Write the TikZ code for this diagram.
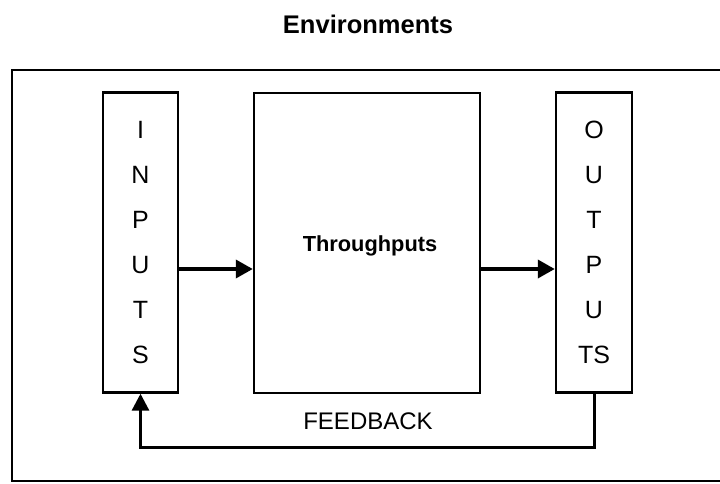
\documentclass[tikz,border=0pt]{standalone}
\usepackage{fontspec}
\setmainfont{Liberation Sans}
\usetikzlibrary{arrows.meta}
\begin{document}
\begin{tikzpicture}[x=1pt,y=-1pt,
  box/.style={draw=black,line width=2.4pt,minimum width=#1,inner sep=0pt,minimum height=300pt},
  letters/.style={align=center,font=\fontsize{25}{45}\selectfont},
  arr/.style={line width=3.6pt,-{Triangle[length=17pt,width=18pt]}},
  fb/.style={line width=3pt,-{Triangle[length=17pt,width=17pt]}}]
\useasboundingbox (0,0) rectangle (720,483);
\fill[white] (0,0) rectangle (720,483);
\node[draw=black,line width=2pt,minimum width=712pt,minimum height=411pt,inner sep=0pt] (env) at (368,275.5) {};
\node[font=\fontsize{25.5}{30}\selectfont\bfseries] (envlabel) at (368,24) {Environments};
\node[box=75pt,letters] (inputs) at (140.5,242.5) {I\\N\\P\\U\\T\\S};
\node[box=226pt] (through) at (367,243) {};
\node[font=\fontsize{21.8}{26}\selectfont\bfseries] (thlabel) at (370,246) {Throughputs};
\node[box=76pt,letters] (outputs) at (594,242.5) {O\\U\\T\\P\\U\\TS};
\coordinate (ay) at (0,269);
\draw[arr] (inputs.east |- ay) -- (through.west |- ay);
\draw[arr] (through.east |- ay) -- (outputs.west |- ay);
\coordinate (fy) at (0,447);
\draw[fb] (outputs.south) -- (outputs.south |- fy) -- (inputs.south |- fy) -- (inputs.south);
\node[font=\fontsize{24}{28}\selectfont] (fblabel) at (368,421) {FEEDBACK};
\end{tikzpicture}
\end{document}
